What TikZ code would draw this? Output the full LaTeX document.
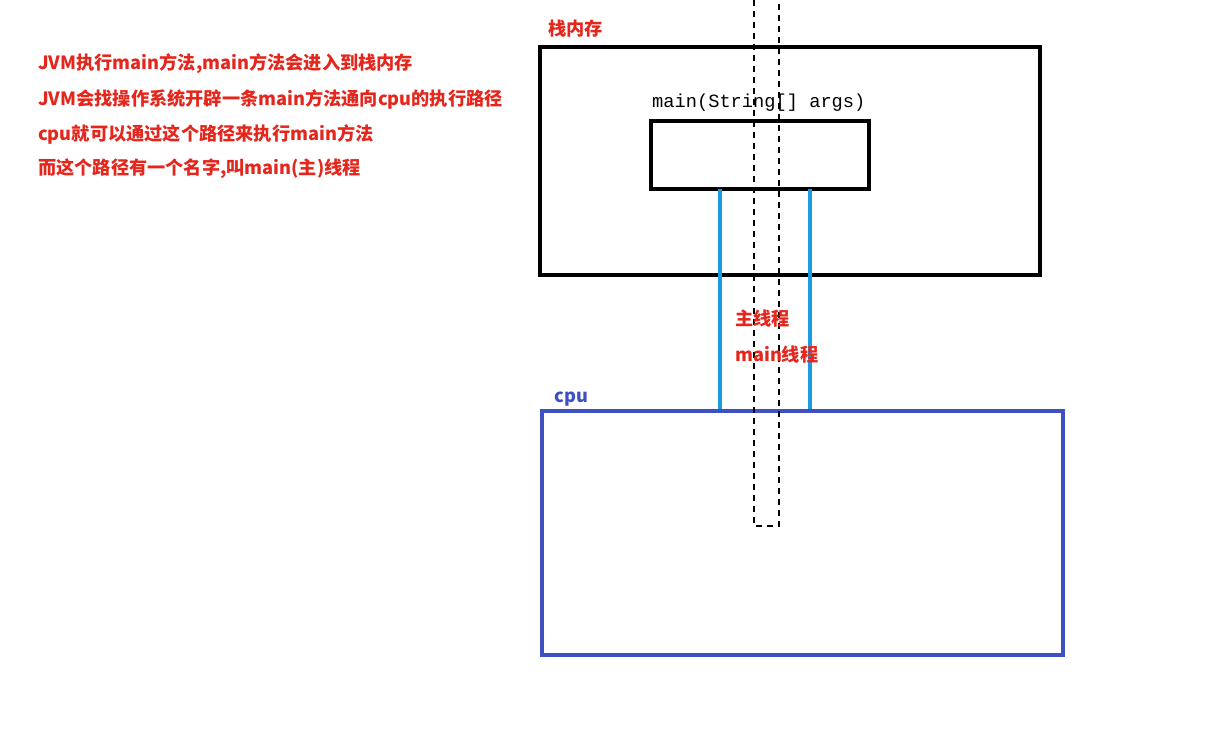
\documentclass[tikz,border=0pt]{standalone}
\usepackage{fontspec}
\setmonofont{Liberation Mono}
\newfontfamily\cjk{Noto Sans CJK SC}
\usetikzlibrary{positioning}

\definecolor{notered}{HTML}{E4261C}
\definecolor{threadblue}{HTML}{1C9BE2}
\definecolor{cpublue}{HTML}{3F50C4}

\tikzset{
  note/.style={anchor=west, inner sep=0pt, text=notered, font=\cjk\bfseries\fontsize{18.2}{18}\selectfont},
  memorybox/.style={draw=black, line width=3.5pt, inner sep=0pt},
  cpubox/.style={draw=cpublue, line width=3.5pt, inner sep=0pt},
  thread/.style={draw=threadblue, line width=4pt},
  guide/.style={draw=black, line width=1.4pt, dash pattern=on 6pt off 5pt}
}

\begin{document}
\begin{tikzpicture}[x=1pt, y=-1pt]
    \useasboundingbox (0,0) rectangle (1226,731);

    \foreach \txt [count=\i] in {{JVM执行main方法,main方法会进入到栈内存},
                                  {JVM会找操作系统开辟一条main方法通向cpu的执行路径},
                                  {cpu就可以通过这个路径来执行main方法},
                                  {而这个路径有一个名字,叫main(主)线程}}
        \node[note] (line\i) at (38,29+35*\i) {\txt};

    % stack memory and the frame of main
    \node[memorybox, minimum width=500pt, minimum height=228pt] (stack) at (790,161) {};
    \node[note, above right=8pt and 10pt of stack.north west] (stacklabel) {栈内存};
    \node[memorybox, minimum width=218pt, minimum height=68pt] (frame) at (760,155) {};
    \node[anchor=south west, inner sep=0pt, font=\ttfamily\fontsize{18.7}{18}\selectfont]
        (mainsig) at (652,112) {main(String[] args)};

    % cpu
    \node[cpubox, minimum width=521pt, minimum height=244pt] (cpu) at (802.5,533) {};
    \node[note, text=cpublue, above right=3pt and 14pt of cpu.north west] (cpulabel) {cpu};

    % dashed path through memory down into the cpu
    \coordinate (gtop) at (766.5,0);
    \coordinate (gbot) at (766.5,526);
    \draw[guide] ([xshift=-12.5pt]gtop) -- ([xshift=-12.5pt]gbot) -- ([xshift=12.5pt]gbot) -- ([xshift=12.5pt]gtop);

    % main thread
    \coordinate (ta) at (720,0);
    \coordinate (tb) at (810,0);
    \draw[thread] ([yshift=2pt]ta |- frame.south) -- ([yshift=0pt]ta |- cpu.north);
    \draw[thread] ([yshift=2pt]tb |- frame.south) -- ([yshift=0pt]tb |- cpu.north);
    \node[note] (thread1) at (735,319) {主线程};
    \node[note] (thread2) at (735,355) {main线程};

\end{tikzpicture}
\end{document}
